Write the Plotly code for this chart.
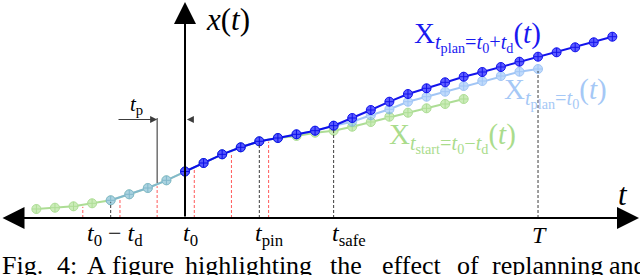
import numpy as np
import plotly.graph_objects as go

# ---------------- data ----------------
k_green = list(range(-8, 16))
v_green = [0.90, 1.03, 1.17, 1.47, 1.77, 2.37, 3.00, 3.77, 4.65, 5.50, 6.37, 7.07,
           7.67, 8.00, 8.20, 8.53, 8.73, 9.13, 9.60, 10.13, 10.53, 10.97, 11.40, 11.90]

k_light = list(range(-4, 20))
v_light = [1.77, 2.37, 3.00, 3.77, 4.65, 5.50, 6.37, 7.07, 7.67, 8.00, 8.37, 8.73,
           9.23, 9.63, 10.27, 10.87, 11.63, 12.13, 12.63, 13.20, 13.70, 14.20, 14.63, 14.90]

k_blue = list(range(0, 24))
v_blue = [4.65, 5.50, 6.37, 7.07, 7.67, 8.00, 8.37, 8.73, 9.23, 10.00, 10.80, 11.63,
          12.40, 12.97, 13.57, 14.13, 14.60, 15.10, 15.63, 16.13, 16.57, 17.07, 17.57, 18.13]

red_events = [-5.5, -3.5, -1.5, 0.5, 2.5, 4.5]
black_events = [-4, 4, 8, 19]
black_event_series = ["green", "blue", "blue", "light"]
tick_labels = ["<i>t</i><sub>0</sub> − <i>t</i><sub>d</sub>", "<i>t</i><sub>0</sub>",
               "<i>t</i><sub>pin</sub>", "<i>t</i><sub>safe</sub>", "<i>T</i>"]
tick_positions = [-4, 0, 4, 8, 19]

# ---------------- geometry helpers ----------------
W, H = 640, 275
X0, DX = 185.0, 18.58         # pixel of t0 and pixels per step
Y0, DY = 218.0, 10.0          # pixel of x-axis, pixels per unit
xr = [(0 - X0) / DX, (W - X0) / DX]
yr = [(Y0 - H) / DY, (Y0 - 0) / DY]

def kx(px):
    return (px - X0) / DX

def hy(py):
    return (Y0 - py) / DY

def px_paper(px):
    return px / W

def py_paper(py):
    return 1 - py / H

SERIF = "Liberation Serif, DejaVu Serif, serif"
c_green = "rgb(120,200,80)"
c_light = "rgb(100,160,240)"
c_blue = "rgb(0,0,235)"

fig = go.Figure()

comb_k = k_green[:8] + k_blue
comb_v = v_green[:8] + v_blue
series = {"green": (k_green, v_green), "light": (k_light, v_light), "blue": (k_blue, v_blue)}

for e in red_events:
    top = float(np.interp(e, comb_k, comb_v)) - 0.2
    fig.add_shape(type="line", x0=e, x1=e, y0=0, y1=top,
                  line=dict(color="rgb(255,90,90)", width=1, dash="3px,2px"))
for e, s in zip(black_events, black_event_series):
    kk, vv = series[s]
    top = float(np.interp(e, kk, vv)) - 0.2
    fig.add_shape(type="line", x0=e, x1=e, y0=0, y1=top,
                  line=dict(color="rgb(60,60,60)", width=1, dash="3px,2px"))

def add_series(k, v, col, fill, op, lw):
    fig.add_trace(go.Scatter(
        x=k, y=v, mode="lines+markers", opacity=op,
        line=dict(color=col, width=lw),
        marker=dict(symbol="circle-cross", size=9, color=fill,
                    line=dict(color=col, width=1)),
        hoverinfo="skip", showlegend=False))

add_series(k_green, v_green, c_green, "rgb(170,225,140)", 0.6, 2)
add_series(k_light, v_light, c_light, "rgb(150,195,250)", 0.6, 2)
add_series(k_blue, v_blue, c_blue, "rgb(80,80,255)", 0.92, 2)

fig.add_shape(type="line", x0=-1.5, x1=-1.5, y0=hy(183), y1=hy(118),
              line=dict(color="rgb(40,40,40)", width=1))

annotations = []
annotations.append(dict(x=kx(639), y=0, ax=kx(1), ay=0, xref="x", yref="y",
                        axref="x", ayref="y", text="", showarrow=True,
                        arrowhead=2, arrowsize=2.2, arrowwidth=2,
                        arrowside="end+start", arrowcolor="black"))
annotations.append(dict(x=0, y=hy(2), ax=0, ay=0, xref="x", yref="y",
                        axref="x", ayref="y", text="", showarrow=True,
                        arrowhead=2, arrowsize=2.2, arrowwidth=2,
                        arrowcolor="black"))
annotations.append(dict(x=-1.5, y=hy(119.5), ax=kx(117), ay=hy(119.5), xref="x", yref="y",
                        axref="x", ayref="y", text="", showarrow=True,
                        arrowhead=2, arrowsize=1.4, arrowwidth=1,
                        arrowcolor="rgb(60,60,60)"))
annotations.append(dict(x=0.1, y=hy(119.5), ax=kx(193), ay=hy(119.5), xref="x", yref="y",
                        axref="x", ayref="y", text="", showarrow=True,
                        arrowhead=2, arrowsize=1.4, arrowwidth=1,
                        arrowcolor="rgb(60,60,60)"))

def txt(text, px, py, size, color="black", xanchor="center", yanchor="middle"):
    annotations.append(dict(text=text, x=px_paper(px), y=py_paper(py), xref="paper",
                            yref="paper", showarrow=False, xanchor=xanchor,
                            yanchor=yanchor,
                            font=dict(family=SERIF, size=size, color=color)))

txt("<i>t</i><sub>p</sub>", 136, 105, 21)
txt("<i>x</i>(<i>t</i>)", 228, 19, 31)
txt("<i>t</i>", 623, 194, 31)

tick_px = [115, 190, 269, 349, 539]
for lab, p in zip(tick_labels, tick_px):
    txt(lab, p, 235, 24)

txt("X<sub><i>t</i><sub>plan</sub>=<i>t</i><sub>0</sub>+<i>t</i><sub>d</sub></sub>(<i>t</i>)",
    477, 37, 29, color="rgb(25,25,240)")
txt("X<sub><i>t</i><sub>plan</sub>=<i>t</i><sub>0</sub></sub>(<i>t</i>)",
    555, 93, 29, color="rgb(165,200,246)")
txt("X<sub><i>t</i><sub>start</sub>=<i>t</i><sub>0</sub>−<i>t</i><sub>d</sub></sub>(<i>t</i>)",
    452, 137, 29, color="rgb(170,220,140)")

cap_words = ["Fig.", "4:", "A", "figure", "highlighting", "the", "effect", "of", "replanning", "and"]
cap_px = [0, 55, 85, 110, 183, 328, 380, 455, 490, 607]
for w_, p in zip(cap_words, cap_px):
    txt(w_, p, 249, 26, xanchor="left", yanchor="top")

fig.update_layout(
    width=W, height=H, margin=dict(l=0, r=0, t=0, b=0),
    paper_bgcolor="white", plot_bgcolor="white",
    xaxis=dict(range=xr, visible=False, fixedrange=True),
    yaxis=dict(range=yr, visible=False, fixedrange=True),
    annotations=annotations, showlegend=False)

fig.write_html("out.html", config={"displayModeBar": False},
               post_script="document.body.style.margin='0';document.body.style.overflow='hidden';")
